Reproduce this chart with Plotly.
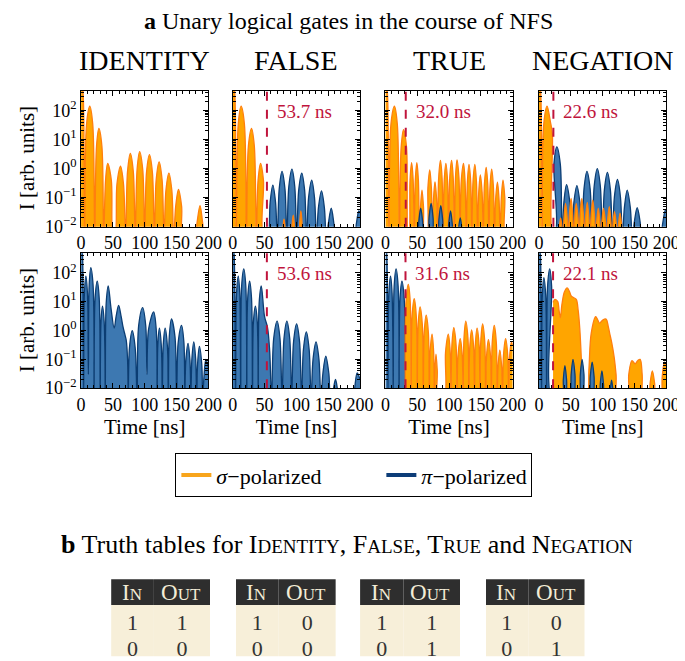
import plotly.graph_objects as go

Z = 4e-3  # intensity at the notches between beats (below the plotted range)

gate_names = ["IDENTITY", "FALSE", "TRUE", "NEGATION"]
switch_row1 = [None, 53.7, 32.0, 22.6]
switch_row2 = [None, 53.6, 31.6, 22.1]

# (time [ns], intensity) points: notches, lobe flanks and lobe tops
# ---- row 1
id_r1_sigma = [(0, 3000), (3.5, 300), (5.5, Z), (8.7, 35), (13.7, 140), (18.3, 35), (21.5, Z), (24.3, 6),
               (28, 24), (32.7, 6), (35.5, Z), (38.5, 0.4), (41.7, 1.5), (47.5, 0.4), (50.5, Z), (53, Z),
               (56.4, 0.3), (62, 1.2), (66.6, 0.3), (70, Z), (73, 0.8), (77.4, 3.3), (82, 0.8), (85, Z),
               (88, 0.95), (92, 3.8), (96.8, 0.95), (99.8, Z), (102.8, 0.75), (107.4, 3.0), (112, 0.75),
               (115, Z), (118, 0.42), (122.6, 1.7), (127.2, 0.42), (130.3, Z), (133.3, 0.18), (137.9, 0.7),
               (142.5, 0.18), (145.5, Z), (148.6, 0.05), (153, 0.19), (157.9, 0.05), (161, Z), (179, Z),
               (182, 0.013), (186.8, 0.053), (191, 0.013), (194, Z), (200, Z)]
false_r1_sigma = [(0, 3000), (3.5, 300), (5.5, Z), (8.7, 35), (13.2, 140), (18.3, 35), (21.5, Z), (24.6, 6),
                  (29.5, 24), (33.9, 6), (37, Z), (39.8, 0.4), (43.7, 1.5), (48.2, 0.4), (51, Z), (77, Z),
                  (79, 0.01), (80.5, 0.018), (82, 0.01), (84, Z), (91.5, Z), (93.3, 0.012), (95, 0.025),
                  (96.7, 0.012), (98.5, Z), (103.5, Z), (105.3, 0.015), (107, 0.035), (108.7, 0.015),
                  (110.5, Z), (200, Z)]
false_r1_pi = [(0, Z), (55, Z), (56, Z), (58.8, 0.07), (63, 0.27), (67.2, 0.07), (70, Z), (73, 0.2),
               (77.4, 0.8), (82, 0.2), (85, Z), (88.1, 0.24), (93, 0.95), (97.4, 0.24), (100.5, Z),
               (103.6, 0.18), (108.4, 0.7), (112.9, 0.18), (116, Z), (119.1, 0.1), (124, 0.4), (128.4, 0.1),
               (131.5, Z), (134.6, 0.045), (139.4, 0.17), (143.9, 0.045), (147, Z), (150, 0.012),
               (154.7, 0.043), (159, 0.012), (162, Z), (190, Z), (194, 0.012), (198, 0.035), (200, 0.03)]
true_r1_sigma = [(0, 3000), (3.5, 300), (5.5, Z), (8.8, 35), (14.2, 140), (18.7, 35), (22, Z), (24.8, 5.5),
                 (28.5, 22), (33.2, 5.5), (36, Z), (37, Z), (38.7, 0.4), (41.2, 1.6), (43.6, 0.4), (45.3, Z),
                 (47, 0.4), (49.4, 1.6), (51.8, 0.4), (53.5, Z), (55.1, 0.045), (57.5, 0.18), (59.9, 0.045),
                 (61.5, Z), (65, Z), (66.8, 0.22), (69.7, 0.9), (72.2, 0.22), (74, Z), (75.6, 0.09),
                 (77.9, 0.35), (80.4, 0.09), (82, Z), (83.7, 0.48), (86.5, 1.9), (89, 0.48), (90.7, Z),
                 (92.4, 0.38), (95, 1.5), (97.6, 0.38), (99.3, Z), (101.1, 0.48), (104, 1.9), (106.5, 0.48),
                 (108.3, Z), (110.1, 0.5), (112.5, 2.0), (115.5, 0.5), (117.3, Z), (119.2, 0.38),
                 (122.7, 1.5), (125.1, 0.38), (127, Z), (128.8, 0.35), (131.3, 1.4), (134, 0.35),
                 (135.8, Z), (137.6, 0.35), (140.5, 1.4), (143, 0.35), (144.8, Z), (146.6, 0.15),
                 (149.1, 0.6), (151.9, 0.15), (153.7, Z), (155.5, 0.28), (158.3, 1.1), (160.8, 0.28),
                 (162.6, Z), (164.3, 0.24), (166.9, 0.95), (169.6, 0.24), (171.3, Z), (173.1, 0.085),
                 (176, 0.34), (178.5, 0.085), (180.3, Z), (182.1, 0.1), (184.7, 0.4), (187.5, 0.1),
                 (189.3, Z), (200, Z)]
true_r1_pi = [(0, Z), (48, Z), (50.5, Z), (52.5, 0.015), (55.5, 0.043), (58.5, 0.015), (60.5, Z),
              (66.5, Z), (68.6, 0.02), (71.8, 0.063), (74.9, 0.02), (77, Z), (82, Z), (84, 0.017),
              (87, 0.053), (90, 0.017), (92, Z), (97.5, Z), (99.4, 0.012), (102.3, 0.035), (105.1, 0.012),
              (107, Z), (113.5, Z), (115, 0.009), (117.6, 0.02), (120, 0.009), (121.5, Z), (200, Z)]
neg_r1_sigma = [(0, 3000), (3, 300), (5, Z), (7.5, 35), (12.7, 140), (18, 40), (21, 15), (22.6, Z), (30, Z),
                (32, 0.01), (34, 0.02), (36, 0.01), (37.8, Z), (39.4, 0.02), (41.7, 0.063), (44.3, 0.02),
                (46, Z), (47.7, 0.025), (50.4, 0.093), (52.8, 0.025), (54.5, Z), (56.2, 0.02), (58.5, 0.063),
                (61.3, 0.02), (63, Z), (64.7, 0.025), (67.2, 0.093), (69.8, 0.025), (71.5, Z), (73.2, 0.02),
                (75.8, 0.068), (78.3, 0.02), (80, Z), (81.8, 0.022), (84.5, 0.081), (87.2, 0.022), (89, Z),
                (90.6, 0.015), (93.1, 0.043), (95.4, 0.015), (97, Z), (98.8, 0.015), (101.3, 0.043),
                (104.2, 0.015), (106, Z), (107.7, 0.016), (110.4, 0.049), (112.8, 0.016), (114.5, Z),
                (116.2, 0.012), (118.6, 0.033), (121.3, 0.012), (123, Z), (124.7, 0.011), (127.2, 0.029),
                (129.8, 0.011), (131.5, Z), (200, Z)]
neg_r1_pi = [(0, Z), (22.6, Z), (23.5, 1.5), (28, 5.6), (33.5, 1.4), (36, Z), (39.1, 0.07), (43.3, 0.28),
             (48.4, 0.07), (51.5, Z), (54.7, 0.065), (59.5, 0.26), (64.3, 0.065), (67.5, Z), (70.7, 0.2),
             (75.3, 0.8), (80.3, 0.2), (83.5, Z), (86.7, 0.25), (91.6, 1.0), (96.3, 0.25), (99.5, Z),
             (102.7, 0.185), (107.4, 0.74), (112.1, 0.185), (115.3, Z), (118.4, 0.105), (123.2, 0.42),
             (127.9, 0.105), (131, Z), (134.1, 0.045), (138.5, 0.18), (143.4, 0.045), (146.5, Z),
             (149.6, 0.014), (154.2, 0.045), (158.9, 0.014), (162, Z), (190, Z), (194, 0.012), (198, 0.035),
             (200, 0.04)]

# ---- row 2
id_r2_pi = [(0, 3000), (2.5, 300), (4, Z), (5.3, 20), (7.6, 77), (10, 20), (11.5, 0.03), (12.8, 40),
            (15.3, 150), (18.8, 40), (20.5, Z), (22, 13), (25.4, 51), (28.5, 13), (30, Z), (31.3, 2),
            (33.6, 7), (36.3, 2), (38, Z), (39.5, 9), (42.7, 35), (47, 6), (52, 1.2), (55, 3), (59, 7.4),
            (63, 3), (66, 1.3), (69, 0.7), (71, 0.45), (73, 0.1), (74, Z), (76, 0.25), (80.4, 0.98),
            (85, 0.25), (88, Z), (90.5, 1.5), (96.7, 6.2), (101.5, 1.5), (103.5, 0.03), (106, 1.1),
            (114, 4.4), (118, 1.1), (119.5, Z), (120.5, 0.3), (123, 1.2), (126, 0.3), (127.5, Z),
            (129, 0.3), (132, 1.2), (135.5, 0.3), (137, Z), (138.5, 0.6), (142, 2.5), (147.5, 0.6),
            (150, Z), (152.5, 0.38), (157.8, 1.5), (161.5, 0.38), (163, Z), (164.5, 0.09), (168, 0.36),
            (171, 0.09), (172.5, Z), (174, 0.1), (177, 0.4), (180, 0.1), (181.5, Z), (183, 0.07),
            (185.8, 0.28), (189.5, 0.07), (191, Z), (193, 0.025), (196, 0.1), (200, 0.05)]
false_r2_pi = [(0, 3000), (2.5, 300), (4.5, Z), (6, 20), (8.7, 77), (11, 20), (12.5, Z), (14, 35),
               (17.3, 137), (20.5, 35), (22, Z), (23.5, 13), (26.5, 51), (29.5, 13), (31, Z), (32.5, 2),
               (35.6, 7), (38.5, 2), (40, Z), (41.5, 9), (44.8, 35), (50, 3), (54.5, 1.3), (58, 0.2),
               (61, Z), (64.3, 0.52), (69.7, 2.1), (74.2, 0.52), (77.5, Z), (80.5, 0.52), (85, 2.1),
               (89.5, 0.52), (92.5, Z), (95.6, 0.42), (100.3, 1.7), (104.9, 0.42), (108, Z), (111, 0.22),
               (115.6, 0.9), (120, 0.22), (123, Z), (126.1, 0.1), (130.8, 0.4), (135.4, 0.1), (138.5, Z),
               (141.6, 0.033), (146.1, 0.13), (150.9, 0.033), (154, Z), (156, Z), (158, 0.009),
               (161.4, 0.02), (164.5, 0.009), (166.5, Z), (189, Z), (191.5, 0.01), (195.4, 0.034),
               (200, 0.02)]
true_r2_pi = [(0, 3000), (2.5, 300), (4, Z), (5.5, 20), (8.1, 77), (10.5, 20), (12.3, Z), (13.8, 35),
              (16.8, 137), (20, 35), (21.5, Z), (23, 13), (26, 51), (29.5, 13), (31.6, Z)]
true_r2_sigma = [(31.6, Z), (32.4, 10), (36.1, 40), (39, 10), (40.5, Z), (42, 3.2), (45.3, 12.6), (48.5, 3.2),
                 (50, Z), (51.5, 1.6), (54.5, 6.6), (58, 1.6), (59.5, Z), (61, 0.85), (64.1, 3.4),
                 (67.5, 0.85), (69, Z), (70.3, 0.18), (73.3, 0.74), (75.8, 0.18), (77, Z), (77.8, 0.04),
                 (79.5, 0.15), (81.5, 0.04), (83, Z), (92, Z), (94.5, 0.18), (98.8, 0.74), (101.8, 0.18),
                 (103, Z), (104.5, 0.32), (107.4, 1.26), (111, 0.32), (112.5, Z), (114, 0.13), (117.6, 0.52),
                 (120.7, 0.13), (122, Z), (123.4, 0.52), (126.2, 2.1), (129.7, 0.52), (131, Z), (132.5, 0.26),
                 (135.4, 1.05), (138.6, 0.26), (140, Z), (141.2, 0.3), (144, 1.2), (147.2, 0.3), (148.5, Z),
                 (149.8, 0.42), (152.7, 1.7), (156, 0.42), (157.5, Z), (158.8, 0.12), (161.8, 0.48),
                 (165.2, 0.12), (166.5, Z), (167.8, 0.38), (171, 1.5), (174.2, 0.38), (175.5, Z),
                 (176.8, 0.05), (179.7, 0.21), (182.7, 0.05), (184, Z), (185.4, 0.13), (188.8, 0.52),
                 (192.2, 0.13), (193.5, Z), (194.8, 0.1), (198, 0.4), (200, 0.3)]
neg_r2_pi = [(0, 3000), (2.5, 300), (4, Z), (5.3, 17), (7.6, 68), (10.5, 17), (12, Z), (13.5, 35),
             (16.8, 137), (19.8, 35), (21, Z), (36.5, Z), (38.2, 0.02), (40.7, 0.06), (43.3, 0.02), (45, Z),
             (48.5, Z), (50.5, 0.03), (53.4, 0.1), (56.5, 0.03), (58.5, Z), (63, Z), (64.9, 0.03),
             (67.7, 0.1), (70.6, 0.03), (72.5, Z), (78.5, Z), (80.5, 0.025), (83.5, 0.08), (86.5, 0.025),
             (88.5, Z), (94.5, Z), (96.2, 0.014), (98.8, 0.04), (101.3, 0.014), (103, Z), (110.5, Z),
             (112, 0.009), (114, 0.019), (116, 0.009), (117.5, Z), (200, Z)]
neg_r2_sigma = [(22.1, 9.3), (25, 12), (29.5, 10), (31.5, 5), (33.6, 2.8), (36, 8), (40, 22), (44.3, 30),
                (48, 22), (50.5, 16), (54, 14), (58.5, 12), (61.5, 5), (64, 1.2), (66.5, 0.1), (68.7, Z),
                (75, Z), (78.5, 0.05), (82, 0.8), (89, 3), (92, 2.4), (95, 1.8), (100, 2.3), (105.3, 2.5),
                (109, 1.3), (111, 0.8), (114.5, 0.35), (118, 0.12), (121, 0.03), (124, Z), (139, Z),
                (141, 0.03), (146, 0.09), (151, 0.07), (155, 0.09), (158.8, 0.1), (162, 0.03), (164, Z),
                (172, Z), (174.5, 0.015), (178, 0.04), (181.5, 0.015), (184, Z), (191, Z), (193.5, 0.025),
                (197, 0.08), (200, 0.06)]

# drawing order per panel: first listed is drawn underneath
panels = [
    [("sigma", id_r1_sigma)],
    [("pi", false_r1_pi), ("sigma", false_r1_sigma)],
    [("sigma", true_r1_sigma), ("pi", true_r1_pi)],
    [("pi", neg_r1_pi), ("sigma", neg_r1_sigma)],
    [("pi", id_r2_pi)],
    [("pi", false_r2_pi)],
    [("pi", true_r2_pi), ("sigma", true_r2_sigma)],
    [("sigma", neg_r2_sigma), ("pi", neg_r2_pi)],
]

# truth tables
truth_in = [1, 0]
truth_out = {"IDENTITY": [1, 0], "FALSE": [0, 0], "TRUE": [1, 1], "NEGATION": [0, 1]}

x_ticks = [0, 50, 100, 150, 200]
y_tickvals = [0.01, 0.1, 1, 10, 100]
y_ticktext = ["10<sup>\u22122</sup>", "10<sup>\u22121</sup>", "10<sup>0</sup>", "10<sup>1</sup>", "10<sup>2</sup>"]

# ---------------------------------------------------------------- styling
W, H = 685, 661
FONT = "Liberation Serif"
STYLE = {
    "sigma": dict(fill="#ffa500", edge="#ff7f0e"),
    "pi": dict(fill="#3d78b1", edge="#0b3d73"),
}
RED = "#c0143c"
col_px = [(70, 201), (226, 357), (383, 514), (541, 672)]
row_px = [(84, 222), (249, 386)]


def px(v):
    return v / W


def py(v):
    return 1 - v / H


def small_caps(word, small):
    return f"{word[0]}<span style='font-size:{small}px'>{word[1:]}</span>"


fig = go.Figure()
layout = dict(
    width=W, height=H, margin=dict(l=0, r=0, t=0, b=0),
    paper_bgcolor="white", plot_bgcolor="white",
    font=dict(family=FONT, color="black", size=18),
    showlegend=True,
)

minor_y = [m * 10 ** e for e in range(-2, 3) for m in range(2, 10)]

for k in range(8):
    r, c = divmod(k, 4)
    idx = k + 1
    xa = f"xaxis{idx}" if idx > 1 else "xaxis"
    ya = f"yaxis{idx}" if idx > 1 else "yaxis"
    xref = f"x{idx}" if idx > 1 else "x"
    yref = f"y{idx}" if idx > 1 else "y"
    L, R = col_px[c]
    T, B = row_px[r]
    layout[xa] = dict(
        domain=[px(L), px(R)], anchor=yref, range=[0, 200],
        tickmode="array", tickvals=x_ticks, ticks="inside", ticklen=5, tickcolor="black",
        minor=dict(dtick=10, tick0=0, ticks="inside", ticklen=3, tickcolor="black"),
        showline=True, linecolor="black", linewidth=1, mirror="ticks",
        showgrid=False, zeroline=False, tickfont=dict(size=18, family=FONT),
    )
    if r == 1:
        layout[xa]["title"] = dict(text="Time [ns]", font=dict(size=21, family=FONT), standoff=2)
    layout[ya] = dict(
        domain=[py(B), py(T)], anchor=xref, type="log", range=[-2, 2.68],
        tickmode="array", tickvals=y_tickvals, ticktext=y_ticktext,
        ticks="inside", ticklen=5, tickcolor="black",
        minor=dict(tickmode="array", tickvals=minor_y, ticks="inside", ticklen=3, tickcolor="black"),
        showline=True, linecolor="black", linewidth=1, mirror="ticks",
        showgrid=False, zeroline=False, showticklabels=(c == 0),
        tickfont=dict(size=18, family=FONT),
    )

    for pol, pts in panels[k]:
        st = STYLE[pol]
        fig.add_trace(go.Scatter(
            x=[p[0] for p in pts], y=[p[1] for p in pts], xaxis=xref, yaxis=yref,
            mode="lines", line=dict(color=st["edge"], width=1.3, shape="spline", smoothing=1.0),
            fill="tozeroy", fillcolor=st["fill"], showlegend=False, hoverinfo="skip",
        ))

    sw = (switch_row1 if r == 0 else switch_row2)[c]
    if sw is not None:
        fig.add_shape(type="line", xref=xref, yref=f"{yref} domain", x0=sw, x1=sw, y0=0, y1=1,
                      line=dict(color=RED, width=2, dash="dash"))
        fig.add_annotation(xref=xref, yref=f"{yref} domain", x=sw, y=0.85, xshift=8,
                           xanchor="left", yanchor="middle", showarrow=False,
                           text=f"{sw:.1f} ns", font=dict(color=RED, size=19, family=FONT))

# y-axis titles of the left column
for T, B in row_px:
    fig.add_annotation(text="I [arb. units]", x=px(14), y=py((T + B) / 2), xref="paper", yref="paper",
                       textangle=-90, xanchor="center", yanchor="middle", showarrow=False,
                       font=dict(size=21, family=FONT, color="black"))

# legend entries
fig.add_trace(go.Scatter(x=[None], y=[None], mode="lines", name="<i>\u03c3</i>\u2212polarized",
                         line=dict(color="#f8a51c", width=4), showlegend=True, legendwidth=160))
fig.add_trace(go.Scatter(x=[None], y=[None], mode="lines", name="<i>\u03c0</i>\u2212polarized",
                         line=dict(color="#0d3d78", width=4), showlegend=True, legendwidth=105))
layout["legend"] = dict(
    orientation="h", x=px(167), y=py(452), xanchor="left", yanchor="top",
    bordercolor="black", borderwidth=1, bgcolor="white",
    font=dict(size=22, family=FONT),
)

# titles
ann = [dict(text="<b>a</b> Unary logical gates in the course of NFS", x=px(345), y=py(13), size=24)]
for c, name in enumerate(gate_names):
    ann.append(dict(text=name, x=px((col_px[c][0] + col_px[c][1]) / 2), y=py(53), size=28))
b_title = ("<b>b</b> Truth tables for " + small_caps("IDENTITY", 19) + ", " + small_caps("FALSE", 19) + ", "
           + small_caps("TRUE", 19) + " and " + small_caps("NEGATION", 19))
ann.append(dict(text=b_title, x=px(344), y=py(545), size=26))
for a in ann:
    fig.add_annotation(text=a["text"], x=a["x"], y=a["y"], xref="paper", yref="paper",
                       xanchor="center", yanchor="middle", showarrow=False,
                       font=dict(size=a["size"], family=FONT, color="black"))

# truth tables (header text drawn as annotations on the dark header band)
table_px = [(101, 203), (229, 332), (357, 460), (486, 588)]
for c, name in enumerate(gate_names):
    L, R = table_px[c]
    fig.add_trace(go.Table(
        domain=dict(x=[px(L), px(R)], y=[py(659), py(580)]),
        columnwidth=[44, 58],
        header=dict(values=["\u00a0", "\u00a0"], fill_color="#2e2e2e", line=dict(color="#2e2e2e", width=0),
                    font=dict(color="#2e2e2e", size=20, family=FONT), height=26, align="center"),
        cells=dict(values=[truth_in, truth_out[name]],
                   fill_color="#f7efd9", line=dict(color="#f7efd9", width=0),
                   font=dict(color="#333333", size=22, family=FONT), height=26, align="center"),
    ))
    for word, cx in (("IN", L + 21), ("OUT", L + 72)):
        fig.add_annotation(text=small_caps(word, 17), x=px(cx), y=py(593), xref="paper", yref="paper",
                           xanchor="center", yanchor="middle", showarrow=False,
                           font=dict(size=23, family=FONT, color="#f3ecd6"))

fig.update_layout(**layout)
fig.write_html("out.html")
